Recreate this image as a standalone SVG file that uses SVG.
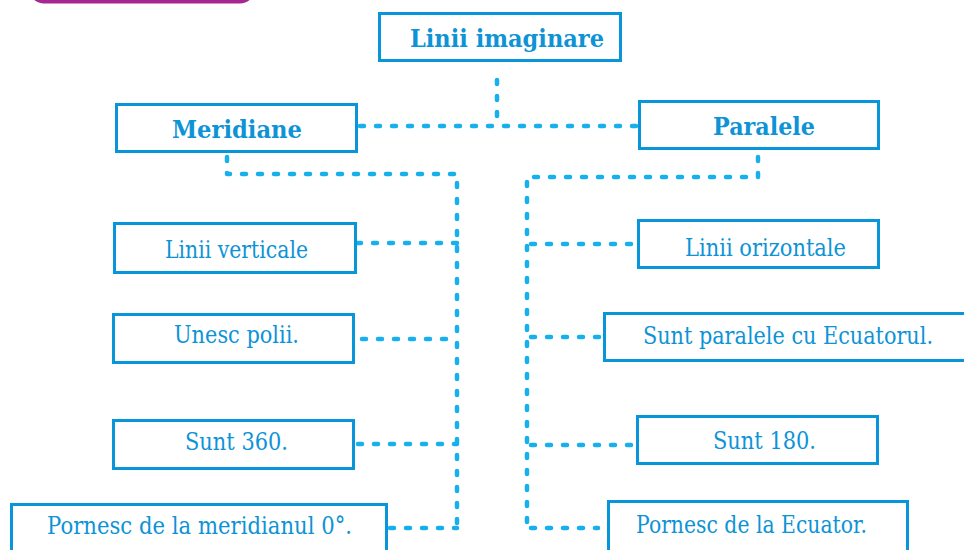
<svg xmlns="http://www.w3.org/2000/svg" width="964" height="550" viewBox="0 0 964 550">
<style>
.box{fill:#ffffff;stroke:#0896db;stroke-width:3}
.c{fill:none;stroke:#17b0ec;stroke-width:4.5;stroke-linecap:round;stroke-linejoin:round;stroke-dasharray:4 12}
text{font-family:"DejaVu Serif",serif;font-size:24.5px;fill:#0d93d6}
.b{font-weight:bold;font-size:25px}
</style>
<rect x="0" y="0" width="964" height="550" fill="#ffffff"/>
<rect x="29" y="-30" width="226" height="33.5" rx="15" fill="#a5278f"/>
<g id="connectors">
<path class="c" d="M497,80 V119"/>
<path class="c" d="M360,126 H637"/>
<path class="c" d="M227,157 V174 H457 V528"/>
<path class="c" d="M357,243 H457"/>
<path class="c" d="M362,339 H457"/>
<path class="c" d="M358,444 H457"/>
<path class="c" d="M390,528 H457"/>
<path class="c" d="M758,157 V177 H527 V528"/>
<path class="c" d="M531,244 H636"/>
<path class="c" d="M531,337 H601"/>
<path class="c" d="M531,445 H635"/>
<path class="c" d="M531,528 H598"/>
</g>
<g id="n-title"><rect class="box" x="379.5" y="13.5" width="241" height="47"/><text class="b" x="410" y="47" textLength="194" lengthAdjust="spacingAndGlyphs">Linii imaginare</text></g>
<g id="n-meridiane"><rect class="box" x="116.5" y="104.5" width="240" height="47"/><text class="b" x="172" y="138" textLength="130" lengthAdjust="spacingAndGlyphs">Meridiane</text></g>
<g id="n-paralele"><rect class="box" x="639.5" y="101.5" width="239" height="47"/><text class="b" x="713" y="135" textLength="102" lengthAdjust="spacingAndGlyphs">Paralele</text></g>
<g id="n-verticale"><rect class="box" x="114.5" y="223.5" width="241" height="49"/><text x="165" y="258" textLength="143" lengthAdjust="spacingAndGlyphs">Linii verticale</text></g>
<g id="n-polii"><rect class="box" x="113.5" y="314.5" width="240" height="48"/><text x="174" y="343" textLength="125" lengthAdjust="spacingAndGlyphs">Unesc polii.</text></g>
<g id="n-360"><rect class="box" x="113.5" y="420.5" width="240" height="48"/><text x="185" y="450" textLength="103" lengthAdjust="spacingAndGlyphs">Sunt 360.</text></g>
<g id="n-meridian0"><rect class="box" x="11.5" y="504.5" width="375" height="60"/><text x="47" y="534" textLength="305" lengthAdjust="spacingAndGlyphs">Pornesc de la meridianul 0°.</text></g>
<g id="n-orizontale"><rect class="box" x="638.5" y="220.5" width="240" height="47"/><text x="685" y="256" textLength="161" lengthAdjust="spacingAndGlyphs">Linii orizontale</text></g>
<g id="n-ecuatorul"><rect class="box" x="604.5" y="313.5" width="380" height="47"/><text x="643" y="344" textLength="290" lengthAdjust="spacingAndGlyphs">Sunt paralele cu Ecuatorul.</text></g>
<g id="n-180"><rect class="box" x="637.5" y="416.5" width="240" height="47"/><text x="713" y="449" textLength="103" lengthAdjust="spacingAndGlyphs">Sunt 180.</text></g>
<g id="n-ecuator"><rect class="box" x="608.5" y="501.5" width="299" height="60"/><text x="636" y="533" textLength="231" lengthAdjust="spacingAndGlyphs">Pornesc de la Ecuator.</text></g>
</svg>
